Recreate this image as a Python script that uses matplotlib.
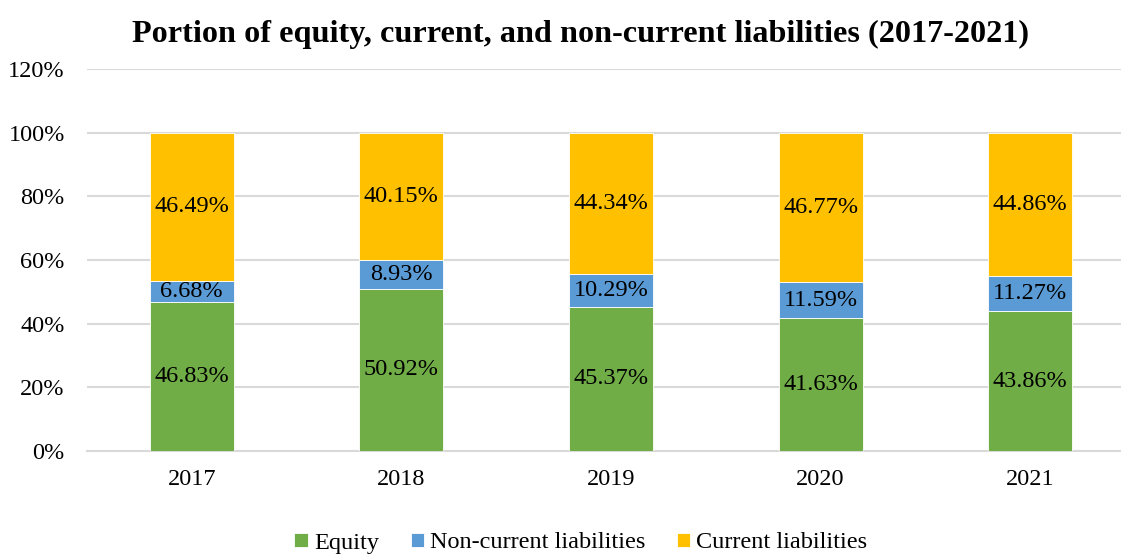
import numpy as np
import matplotlib.pyplot as plt

plt.rcParams['font.family'] = ['Liberation Serif', 'DejaVu Serif']

years = ['2017', '2018', '2019', '2020', '2021']
equity = [46.83, 50.92, 45.37, 41.63, 43.86]
non_current = [6.68, 8.93, 10.29, 11.59, 11.27]
current = [46.49, 40.15, 44.34, 46.77, 44.86]

colors = ['#70AD47', '#5B9BD5', '#FFC000']
names = ['Equity', 'Non-current liabilities', 'Current liabilities']

fig = plt.figure(figsize=(11.21, 5.54), dpi=100)
ax = fig.add_axes([87 / 1121, 1 - 451 / 554, (1121 - 87) / 1121, (451 - 69) / 554])

x = np.arange(len(years))
bottom = np.zeros(len(years))
for vals, c, n in zip([equity, non_current, current], colors, names):
    vals = np.array(vals)
    ax.bar(x, vals, 0.4, bottom=bottom, color=c, label=n,
           edgecolor='white', linewidth=0.6, zorder=3)
    for xi, b, v in zip(x, bottom, vals):
        ax.text(xi, b + v / 2, f'{v:.2f}%', ha='center', va='center', fontsize=17.5, zorder=4)
    bottom += vals

ax.set_ylim(0, 120)
ax.set_xlim(-0.5, 4.5 - 14 / 209.75)
ax.set_yticks(np.arange(0, 121, 20))
ax.set_yticklabels([f'{v}%' for v in range(0, 121, 20)])
ax.set_xticks(x)
ax.set_xticklabels(years)
ax.tick_params(axis='both', length=0, labelsize=17.5)
ax.tick_params(axis='y', pad=16)
ax.tick_params(axis='x', pad=13)
ax.grid(axis='y', color='#D9D9D9', linewidth=1.5, zorder=0)
for s in ['top', 'right', 'left']:
    ax.spines[s].set_visible(False)
ax.spines['bottom'].set_color('#D9D9D9')
ax.spines['bottom'].set_linewidth(1.5)

fig.suptitle('Portion of equity, current, and non-current liabilities (2017-2021)',
             fontsize=23.2, fontweight='bold', x=581 / 1121, y=1 - 34 / 554, va='center')

fig.legend(loc='center', bbox_to_anchor=(581 / 1121, 1 - 543 / 554), ncol=3, frameon=False,
           fontsize=17.5, handlelength=0.55, handleheight=0.55, handletextpad=0.25,
           columnspacing=1.3)

plt.savefig('out.png', dpi=100)
